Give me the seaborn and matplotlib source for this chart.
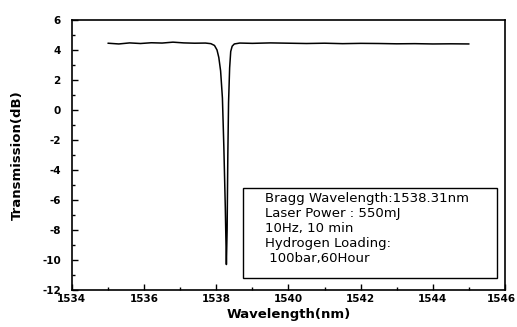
import matplotlib
matplotlib.use("Agg")
import matplotlib.pyplot as plt
import matplotlib.patches as mpatches
import matplotlib.transforms as mtransforms
import seaborn as sns
import pandas as pd

# Spectrum
wavelength = [1535.0, 1535.3, 1535.6, 1535.9, 1536.2, 1536.5, 1536.8, 1537.1,
              1537.4, 1537.7, 1537.85, 1537.95, 1538.02, 1538.07, 1538.12,
              1538.17, 1538.21, 1538.25, 1538.28, 1538.30, 1538.32, 1538.34,
              1538.37, 1538.40, 1538.44, 1538.50, 1538.65, 1539.0, 1539.5,
              1540.0, 1540.5, 1541.0, 1541.5, 1542.0, 1542.5, 1543.0, 1543.5,
              1544.0, 1544.5, 1545.0]
transmission = [4.45, 4.40, 4.47, 4.43, 4.48, 4.46, 4.52, 4.47,
                4.45, 4.46, 4.42, 4.30, 4.00, 3.50, 2.60,
                0.80, -2.50, -6.50, -10.3, -8.0, -3.0, 0.5,
                2.80, 3.90, 4.25, 4.40, 4.46, 4.44, 4.47,
                4.45, 4.43, 4.45, 4.42, 4.44, 4.43, 4.41, 4.42,
                4.40, 4.41, 4.40]

x_ticks = [1534, 1536, 1538, 1540, 1542, 1544, 1546]
y_ticks = [-12, -10, -8, -6, -4, -2, 0, 2, 4, 6]

info_lines = ["Bragg Wavelength:1538.31nm",
              "Laser Power : 550mJ",
              "10Hz, 10 min",
              "Hydrogen Loading:",
              " 100bar,60Hour"]

df = pd.DataFrame({"wl": wavelength, "t": transmission})

sns.set_style("ticks")
plt.rcParams["font.family"] = ["DejaVu Sans"]
plt.rcParams["axes.unicode_minus"] = False
plt.rcParams["text.color"] = "black"
plt.rcParams["axes.labelcolor"] = "black"
plt.rcParams["xtick.color"] = "black"
plt.rcParams["ytick.color"] = "black"

fig = plt.figure(figsize=(5.17, 3.27), dpi=100)
ax = fig.add_axes([0.139, 0.113, 0.838, 0.826])

sns.lineplot(data=df, x="wl", y="t", ax=ax, color="black", linewidth=1.1)

ax.set_xlim(1534, 1546)
ax.set_ylim(-12, 6)
ax.set_xticks(x_ticks)
ax.set_yticks(y_ticks)
ax.set_xticks([v + 1 for v in x_ticks[:-1]], minor=True)
ax.set_yticks([v + 1 for v in y_ticks[:-1]], minor=True)
ax.tick_params(direction="in", length=4, width=1, labelsize=7.5,
               top=False, right=False)
ax.tick_params(axis="x", pad=3)
ax.tick_params(axis="y", pad=8)
ax.tick_params(which="minor", direction="in", length=2, width=1,
               top=False, right=False)
for lbl in ax.get_xticklabels() + ax.get_yticklabels():
    lbl.set_fontweight("bold")
# keep the last x label inside the canvas
last = ax.get_xticklabels()[-1]
last.set_transform(last.get_transform() +
                   mtransforms.ScaledTranslation(-3 / 72, 0, fig.dpi_scale_trans))
for s in ax.spines.values():
    s.set_linewidth(1.2)
    s.set_color("black")

ax.set_xlabel("Wavelength(nm)", fontsize=9.5, fontweight="bold", labelpad=3)
ax.set_ylabel("Transmission(dB)", fontsize=9.5, fontweight="bold", labelpad=13)

# info box
ax.add_patch(mpatches.Rectangle((0.395, 0.044), 0.586, 0.334,
                                transform=ax.transAxes, facecolor="white",
                                edgecolor="black", linewidth=1, zorder=3))
ax.text(0.446, 0.362, "\n".join(info_lines), transform=ax.transAxes,
        fontsize=9.5, va="top", ha="left", linespacing=1.2, zorder=4)

fig.savefig("out.png", dpi=100)
